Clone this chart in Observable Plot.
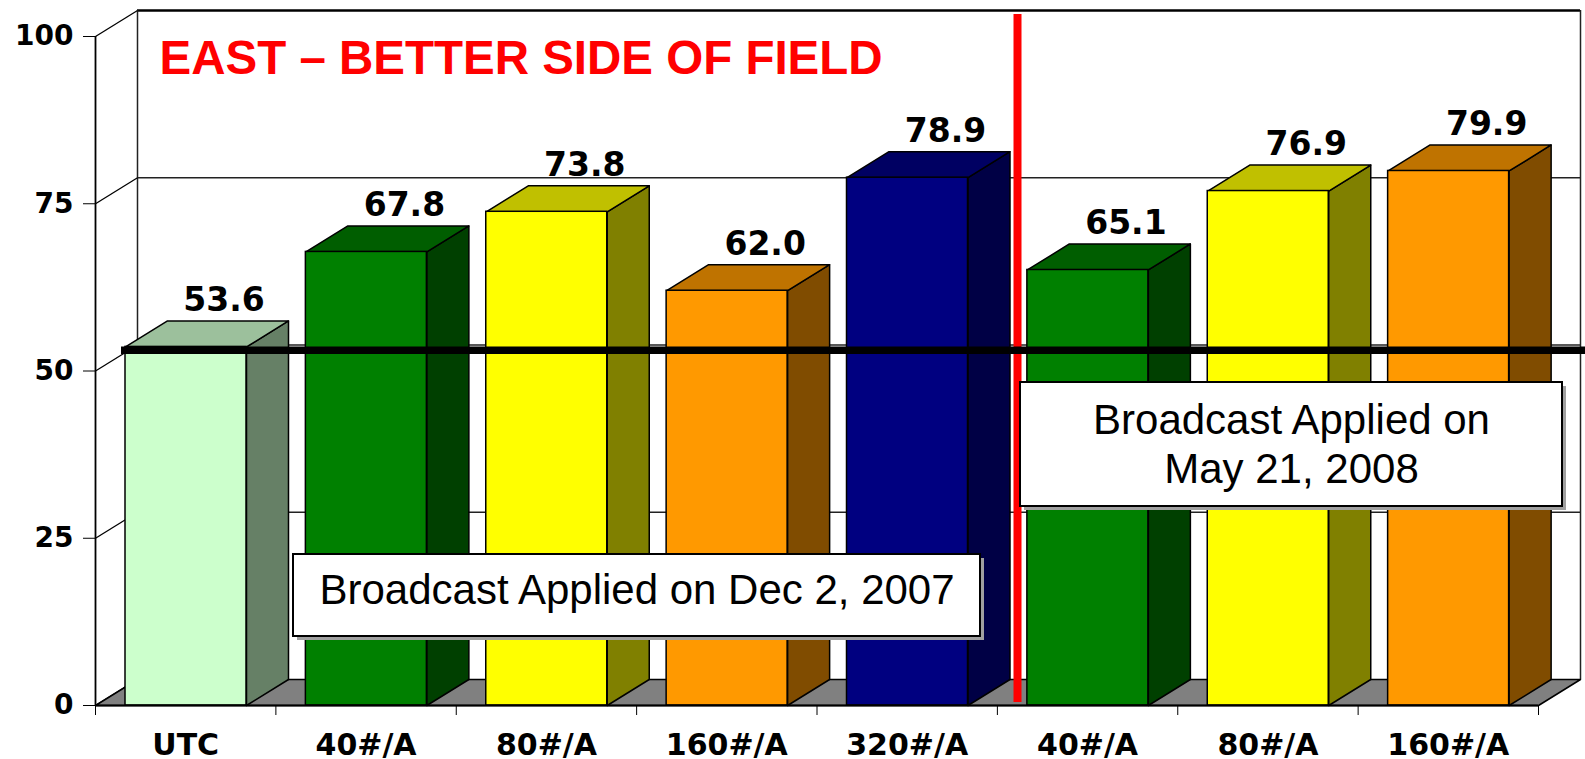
<!DOCTYPE html>
<html>
<head>
<meta charset="utf-8">
<script src="https://cdn.jsdelivr.net/npm/d3@7"></script>
<script src="https://cdn.jsdelivr.net/npm/@observablehq/plot@0.6"></script>
<style>
  body { margin: 0; background: #ffffff; }
  #chart { width: 1585px; height: 759px; }
</style>
</head>
<body>
<div id="chart"></div>
<script>
// ---- data ----
const categories = ["UTC", "40#/A", "80#/A", "160#/A", "320#/A", "40#/A", "80#/A", "160#/A"];
const values = [53.6, 67.8, 73.8, 62.0, 78.9, 65.1, 76.9, 79.9];
const frontColors = ["#ccffcc", "#008000", "#ffff00", "#ff9900", "#000080", "#008000", "#ffff00", "#ff9900"];
const sideColors  = ["#668066", "#004000", "#808000", "#804c00", "#000045", "#004000", "#808000", "#804c00"];
const topColors   = ["#9cc09c", "#005e00", "#c0c000", "#bf7300", "#000062", "#005e00", "#c0c000", "#bf7300"];
const yTicks = [0, 25, 50, 75, 100];
const referenceLevel = [53.1];
const title = "EAST \u2013 BETTER SIDE OF FIELD";
const noteTexts = ["Broadcast Applied on Dec 2, 2007", "Broadcast Applied on\nMay 21, 2008"];

// ---- layout ----
const W = 1585, H = 759;
const mL = 95, mR = 47, mT = 36, mB = 54;
const pxX = (W - mL - mR) / 8;       // pixels per category
const pxY = (H - mT - mB) / 100;     // pixels per unit
const DX = 42 / pxX;                 // depth offset (x, data units)
const DY = 26 / pxY;                 // depth offset (y, data units)
const BX = 30 / pxX, BW = 121 / pxX; // bar offset & width
const px2x = p => (p - mL) / pxX;
const px2y = p => (H - mB - p) / pxY;

// polygons (floor, bar sides, bar tops)
const polys = [];
function poly(id, pts, fill) {
  pts.concat([pts[0]]).forEach(([x, y]) => polys.push({id, x, y, fill}));
}
poly("floor", [[0, 0], [8, 0], [8 + DX, DY], [DX, DY]], "#808080");
values.forEach((v, i) => {
  const x0 = i + BX, x1 = i + BX + BW;
  poly("side" + i, [[x1, 0], [x1 + DX, DY], [x1 + DX, v + DY], [x1, v]], sideColors[i]);
  poly("top" + i, [[x0, v], [x0 + DX, v + DY], [x1 + DX, v + DY], [x1, v]], topColors[i]);
});
const bars = values.map((v, i) => ({v, i, x1: i + BX, x2: i + BX + BW, fill: frontColors[i]}));

const notes = [
  {text: noteTexts[0], x1: px2x(293), x2: px2x(980), y1: px2y(636), y2: px2y(554), tx: px2x(636.5), ty: px2y(603)},
  {text: noteTexts[1], x1: px2x(1020), x2: px2x(1562), y1: px2y(506), y2: px2y(382), tx: px2x(1291), ty: px2y(482)}
];
const dividerX = px2x(1017);

const boldNum = "DejaVu Sans, Verdana, sans-serif";
const arial = "Liberation Sans, Arial, Helvetica, sans-serif";

const chart = Plot.plot({
  width: W, height: H,
  marginLeft: mL, marginRight: mR, marginTop: mT, marginBottom: mB,
  x: {type: "linear", domain: [0, 8]},
  y: {type: "linear", domain: [0, 100]},
  color: {type: "identity"},
  style: {background: "#ffffff", overflow: "visible"},
  marks: [
    // back wall grid
    Plot.ruleY([25, 50, 75], {y: d => d + DY, x1: DX, x2: 8 + DX, stroke: "#222", strokeWidth: 1.3}),
    Plot.ruleY([100], {y: d => d + DY, x1: DX, x2: 8 + DX, stroke: "#000", strokeWidth: 2.5}),
    Plot.ruleX([DX, 8 + DX], {y1: DY, y2: 100 + DY, stroke: "#222", strokeWidth: 1.5}),
    // left side wall diagonals
    Plot.link(yTicks, {x1: 0, y1: d => d, x2: DX, y2: d => d + DY, stroke: "#000", strokeWidth: 1.3}),
    Plot.ruleX([0], {y1: 0, y2: 100, stroke: "#000", strokeWidth: 1.8}),
    // floor, bar sides and tops
    Plot.line(polys, {x: "x", y: "y", z: "id", fill: "fill", stroke: "#000", strokeWidth: 1.5, strokeLinejoin: "round"}),
    // bar fronts
    Plot.rect(bars, {x1: "x1", x2: "x2", y1: 0, y2: "v", fill: "fill", stroke: "#000", strokeWidth: 1.5}),
    // front edge of floor
    Plot.ruleY([0], {x1: 0, x2: 8, stroke: "#000", strokeWidth: 2.2}),
    // axes
    Plot.axisY(yTicks, {tickSize: 12, tickPadding: 10, tickFormat: d => String(d),
      fontSize: 28, fontWeight: "bold", fontFamily: boldNum}),
    Plot.axisX(d3.range(9), {tickSize: 10, tickFormat: () => ""}),
    Plot.axisX(d3.range(8).map(i => i + 0.5), {tickSize: 0, tickPadding: 28,
      tickFormat: d => categories[Math.floor(d)], fontSize: 30, fontWeight: "bold", fontFamily: boldNum}),
    // value labels
    Plot.text(bars, {x: d => d.x1 + BW / 2, y: d => d.v + DY, dx: 38, dy: -10, text: d => d.v.toFixed(1),
      lineAnchor: "bottom", textAnchor: "middle", fontSize: 33, fontWeight: "bold", fontFamily: boldNum, fill: "#000"}),
    // title
    Plot.text([title], {frameAnchor: "top-left", dx: 64, dy: 37, textAnchor: "start", lineAnchor: "bottom",
      fill: "#ff0000", fontSize: 47.5, fontWeight: "bold", fontFamily: arial}),
    // divider
    Plot.ruleX([dividerX], {y1: px2y(702), y2: px2y(14), stroke: "#ff0000", strokeWidth: 8}),
    // reference level line
    Plot.ruleY(referenceLevel, {x1: px2x(121), x2: px2x(1585), stroke: "#000", strokeWidth: 7.5}),
    // note boxes
    Plot.rect(notes, {x1: "x1", x2: "x2", y1: "y1", y2: "y2", dx: 4, dy: 4, fill: "#a0a0a0"}),
    Plot.rect(notes, {x1: "x1", x2: "x2", y1: "y1", y2: "y2", fill: "#ffffff", stroke: "#000", strokeWidth: 2}),
    Plot.text(notes, {x: "tx", y: "ty", text: "text", lineAnchor: "bottom", textAnchor: "middle",
      lineHeight: 49 / 42, fontSize: 42, fontFamily: arial, fill: "#000"})
  ]
});
document.getElementById("chart").appendChild(chart);
</script>
</body>
</html>
